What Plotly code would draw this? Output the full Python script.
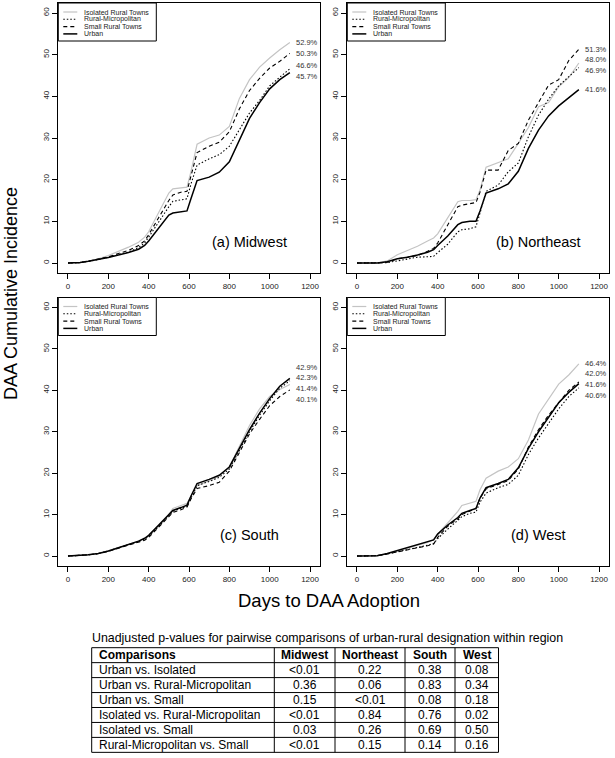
import plotly.graph_objects as go

# ---------------- data ----------------
days = [0, 60, 100, 150, 200, 250, 300, 350, 380, 400, 450, 500, 520, 560, 590, 610,
        640, 700, 750, 800, 850, 900, 950, 1000, 1050, 1100]

series_names = ["Isolated Rural Towns", "Rural-Micropolitan", "Small Rural Towns", "Urban"]
region_titles = ["(a) Midwest", "(b) Northeast", "(c) South", "(d) West"]

# Midwest
mw_isolated = [0, 0.1, 0.4, 1.0, 1.8, 2.8, 3.8, 5.0, 6.2, 7.5, 12.0, 16.8, 17.8, 18.0, 18.2, 22.0,
               28.5, 30.0, 30.7, 32.8, 39.5, 44.0, 47.0, 49.2, 51.2, 52.9]
mw_micro = [0, 0.1, 0.4, 0.8, 1.4, 2.0, 2.6, 3.7, 4.8, 6.2, 10.0, 13.5, 14.8, 15.2, 15.4, 19.0,
            23.5, 25.0, 26.0, 28.0, 32.0, 36.0, 39.0, 42.5, 44.6, 46.6]
mw_small = [0, 0.1, 0.4, 0.9, 1.5, 2.3, 3.0, 4.2, 5.3, 6.8, 11.0, 15.0, 16.3, 17.0, 17.2, 21.0,
            26.5, 28.0, 29.0, 31.5, 37.0, 41.4, 44.3, 46.8, 48.4, 50.3]
mw_urban = [0, 0.1, 0.4, 0.8, 1.3, 1.9, 2.5, 3.3, 4.2, 5.3, 8.3, 11.5, 12.0, 12.3, 12.5, 15.5,
            19.8, 20.6, 21.8, 24.3, 29.5, 34.7, 38.5, 41.8, 44.0, 45.7]

# Northeast
ne_isolated = [0, 0, 0, 0.5, 2.0, 3.0, 4.0, 5.3, 6.0, 7.0, 10.7, 14.7, 15.0, 15.0, 15.2, 17.5,
               23.0, 24.0, 25.0, 28.7, 32.5, 37.5, 38.5, 42.3, 44.5, 48.0]
ne_micro = [0, 0, 0, 0.1, 0.5, 0.9, 1.4, 1.5, 1.6, 2.5, 4.5, 7.5, 8.0, 8.2, 8.7, 12.0,
            17.2, 18.7, 21.9, 24.0, 30.3, 35.5, 39.3, 42.5, 44.8, 46.9]
ne_small = [0, 0, 0, 0.2, 1.0, 1.4, 1.8, 2.8, 3.5, 4.8, 9.0, 13.5, 13.9, 14.2, 14.5, 17.0,
            22.3, 22.3, 27.0, 28.7, 34.3, 38.5, 42.7, 44.0, 48.6, 51.3]
ne_urban = [0, 0, 0, 0.3, 1.0, 1.4, 1.9, 2.6, 3.2, 4.2, 6.5, 9.2, 9.7, 10.0, 10.0, 12.5,
            16.8, 17.8, 19.0, 22.0, 27.5, 31.9, 35.3, 37.7, 39.7, 41.6]

# South
so_isolated = [0, 0.1, 0.3, 0.6, 1.1, 1.9, 2.7, 3.5, 4.1, 4.8, 7.2, 10.0, 11.5, 12.2, 12.7, 14.5,
               17.0, 18.2, 19.3, 21.5, 26.5, 31.5, 35.5, 38.5, 40.2, 41.4]
so_micro = [0, 0.1, 0.3, 0.6, 1.2, 2.0, 2.7, 3.5, 4.1, 4.8, 7.2, 9.7, 10.8, 11.5, 12.0, 14.0,
            17.0, 18.0, 19.0, 21.0, 25.5, 30.0, 34.0, 37.5, 40.5, 42.3]
so_small = [0, 0.1, 0.3, 0.6, 1.1, 1.9, 2.6, 3.3, 3.8, 4.5, 7.0, 9.5, 10.5, 11.2, 11.8, 13.8,
            16.3, 17.0, 17.8, 20.5, 25.0, 29.5, 33.0, 36.3, 38.5, 40.1]
so_urban = [0, 0.1, 0.3, 0.6, 1.2, 2.0, 2.8, 3.6, 4.3, 5.0, 7.5, 10.0, 11.0, 11.7, 12.3, 14.5,
            17.5, 18.5, 19.5, 21.5, 26.0, 30.5, 34.5, 38.0, 41.0, 42.9]

# West
we_isolated = [0, 0, 0.1, 0.5, 1.2, 1.8, 2.5, 3.3, 4.0, 5.3, 8.0, 10.8, 12.2, 12.8, 13.2, 16.0,
               18.8, 20.5, 21.5, 23.5, 28.0, 34.3, 38.0, 41.5, 43.7, 46.4]
we_micro = [0, 0, 0.1, 0.5, 1.0, 1.5, 2.1, 2.6, 3.0, 4.2, 6.5, 8.5, 9.5, 10.3, 10.6, 13.0,
            15.2, 16.5, 17.3, 19.5, 24.5, 28.5, 32.0, 35.5, 38.5, 40.6]
we_small = [0, 0, 0.1, 0.5, 1.0, 1.4, 2.0, 2.5, 2.9, 4.5, 7.2, 9.0, 10.0, 10.8, 11.5, 14.0,
            16.2, 17.3, 18.2, 21.0, 26.3, 30.5, 34.0, 37.0, 40.0, 42.0]
we_urban = [0, 0, 0.1, 0.6, 1.3, 1.9, 2.7, 3.4, 3.9, 5.3, 7.5, 9.3, 10.3, 11.0, 11.5, 14.0,
            16.5, 17.5, 18.5, 21.3, 26.0, 30.0, 33.5, 37.0, 39.5, 41.6]

x_ticks = [0, 200, 400, 600, 800, 1000, 1200]
y_ticks = [0, 10, 20, 30, 40, 50, 60]

# table
tbl_title = "Unadjusted p-values for pairwise comparisons of urban-rural designation within region"
tbl_header = ["Comparisons", "Midwest", "Northeast", "South", "West"]
tbl_comparisons = ["Urban vs. Isolated", "Urban vs. Rural-Micropolitan", "Urban vs. Small",
                   "Isolated vs. Rural-Micropolitan", "Isolated vs. Small", "Rural-Micropolitan vs. Small"]
tbl_midwest = ["<0.01", "0.36", "0.15", "<0.01", "0.03", "<0.01"]
tbl_northeast = ["0.22", "0.06", "<0.01", "0.84", "0.26", "0.15"]
tbl_south = ["0.38", "0.83", "0.08", "0.76", "0.69", "0.14"]
tbl_west = ["0.08", "0.34", "0.18", "0.02", "0.50", "0.16"]

# ---------------- layout / styling ----------------
W, H = 615, 758
FONT = "Liberation Sans, Arial, sans-serif"
styles = [
    dict(color="#c4c4c4", width=1.2, dash="solid"),
    dict(color="#000000", width=1.1, dash="1.5px,2px"),
    dict(color="#000000", width=1.1, dash="4px,3px"),
    dict(color="#000000", width=1.5, dash="solid"),
]
panels = [
    [mw_isolated, mw_micro, mw_small, mw_urban],
    [ne_isolated, ne_micro, ne_small, ne_urban],
    [so_isolated, so_micro, so_small, so_urban],
    [we_isolated, we_micro, we_small, we_urban],
]
# panel boxes in pixels: (left, right, top, bottom)
boxes = [(58.3, 319.7, 3.0, 273.0), (347.3, 608.7, 3.0, 273.0),
         (58.3, 319.7, 297.5, 566.0), (347.3, 608.7, 297.5, 566.0)]

# table geometry (pixels)
TBL_LEFT, TBL_TOP, ROW_H = 91.7, 647.7, 14.95
COL_W = [182.6, 60.7, 70.0, 50.0, 43.5]


def px_x(p):
    return p / W


def px_y(p):
    return 1 - p / H


def spread(vals, gap):
    """Place end labels at their values, pushing overlapping ones apart."""
    order = sorted(range(len(vals)), key=lambda i: vals[i])
    clusters = []
    for i in order:
        clusters.append([i])
        while len(clusters) > 1:
            a, b = clusters[-2], clusters[-1]
            ca = sum(vals[k] for k in a) / len(a)
            cb = sum(vals[k] for k in b) / len(b)
            top_a = ca + (len(a) - 1) / 2 * gap
            bot_b = cb - (len(b) - 1) / 2 * gap
            if bot_b - top_a < gap:
                clusters[-2:] = [a + b]
            else:
                break
    pos = {}
    for c in clusters:
        m = sum(vals[k] for k in c) / len(c)
        for j, k in enumerate(c):
            pos[k] = m + (j - (len(c) - 1) / 2) * gap
    return [pos[i] for i in range(len(vals))]


fig = go.Figure()
annotations = []
shapes = []

for p, (series, box) in enumerate(zip(panels, boxes)):
    xa = "xaxis" if p == 0 else f"xaxis{p+1}"
    ya = "yaxis" if p == 0 else f"yaxis{p+1}"
    xr = "x" if p == 0 else f"x{p+1}"
    yr = "y" if p == 0 else f"y{p+1}"
    l, r, t, b = box
    for name, vals, st in zip(series_names, series, styles):
        fig.add_trace(go.Scatter(x=days, y=vals, mode="lines", name=name, showlegend=False,
                                 line=st, xaxis=xr, yaxis=yr, hoverinfo="skip"))
    axis_common = dict(showgrid=False, zeroline=False, showline=True, mirror=True,
                       linecolor="black", linewidth=1, ticks="outside", ticklen=5,
                       tickcolor="black", tickwidth=1,
                       tickfont=dict(family=FONT, size=8, color="#222"))
    fig.layout[xa] = dict(axis_common, domain=[px_x(l), px_x(r)], range=[-48, 1248],
                          tickvals=x_ticks, anchor=yr)
    fig.layout[ya] = dict(axis_common, domain=[px_y(b), px_y(t)], range=[-2.4, 62.4],
                          tickvals=y_ticks, tickangle=-90, anchor=xr)

    # region label
    annotations.append(dict(x=900, y=5, xref=xr, yref=yr, text=region_titles[p],
                            xanchor="center", yanchor="middle",
                            showarrow=False, font=dict(family=FONT, size=14.5, color="black")))
    # end-of-line labels
    finals = [s[-1] for s in series]
    for v, ypos in zip(finals, spread(finals, 2.6)):
        annotations.append(dict(x=1120, y=ypos, xref=xr, yref=yr, text=f"{v:.1f}%",
                                xanchor="left", yanchor="middle", showarrow=False,
                                font=dict(family=FONT, size=7.5, color="#333")))
    # legend box (pixel offsets from the panel's top-left corner)
    shapes.append(dict(type="rect", xref="paper", yref="paper",
                       x0=px_x(l), x1=px_x(l + 98), y0=px_y(t + 38), y1=px_y(t),
                       line=dict(color="black", width=1), fillcolor="white", layer="above"))
    for k, (name, st) in enumerate(zip(series_names, styles)):
        yy = px_y(t + 9 + k * 7.3)
        shapes.append(dict(type="line", xref="paper", yref="paper",
                           x0=px_x(l + 5), x1=px_x(l + 19), y0=yy, y1=yy,
                           line=dict(color=st["color"], width=st["width"], dash=st["dash"]),
                           layer="above"))
        annotations.append(dict(x=px_x(l + 24.5), y=yy, xref="paper", yref="paper", text=name,
                                xanchor="left", yanchor="middle", showarrow=False,
                                borderpad=0,
                                font=dict(family=FONT, size=7, color="#222")))

# axis titles
annotations.append(dict(x=px_x(11), y=px_y(294), xref="paper", yref="paper",
                        text="DAA Cumulative Incidence", textangle=-90, showarrow=False,
                        xanchor="center", yanchor="middle",
                        font=dict(family=FONT, size=18, color="black")))
annotations.append(dict(x=px_x(328.5), y=px_y(600), xref="paper", yref="paper",
                        text="Days to DAA Adoption", showarrow=False,
                        xanchor="center", yanchor="middle",
                        font=dict(family=FONT, size=18.5, color="black")))
# table title
annotations.append(dict(x=px_x(90), y=px_y(638), xref="paper", yref="paper", text=tbl_title,
                        xanchor="left", yanchor="middle", showarrow=False,
                        font=dict(family=FONT, size=12.4, color="black")))

# ---------------- table drawn from the data lists ----------------
columns = [tbl_comparisons, tbl_midwest, tbl_northeast, tbl_south, tbl_west]
n_rows = len(tbl_comparisons) + 1
col_edges = [TBL_LEFT]
for w in COL_W:
    col_edges.append(col_edges[-1] + w)
tbl_bottom = TBL_TOP + n_rows * ROW_H
for xe in col_edges:
    shapes.append(dict(type="line", xref="paper", yref="paper", x0=px_x(xe), x1=px_x(xe),
                       y0=px_y(TBL_TOP), y1=px_y(tbl_bottom), line=dict(color="black", width=1)))
for i in range(n_rows + 1):
    ye = TBL_TOP + i * ROW_H
    shapes.append(dict(type="line", xref="paper", yref="paper", x0=px_x(col_edges[0]),
                       x1=px_x(col_edges[-1]), y0=px_y(ye), y1=px_y(ye),
                       line=dict(color="black", width=1)))
for c, (head, col) in enumerate(zip(tbl_header, columns)):
    cells = [f"<b>{head}</b>"] + list(col)
    for i, txt in enumerate(cells):
        yc = px_y(TBL_TOP + (i + 0.5) * ROW_H)
        if c == 0:
            xpos, anchor = px_x(col_edges[0] + 5), "left"
        else:
            xpos, anchor = px_x((col_edges[c] + col_edges[c + 1]) / 2), "center"
        annotations.append(dict(x=xpos, y=yc, xref="paper", yref="paper",
                                text=txt.replace("<0", "&lt;0"), xanchor=anchor,
                                yanchor="middle", showarrow=False,
                                font=dict(family=FONT, size=12, color="black")))

fig.update_layout(width=W, height=H, margin=dict(l=0, r=0, t=0, b=0),
                  paper_bgcolor="white", plot_bgcolor="white", showlegend=False,
                  annotations=annotations, shapes=shapes)

fig.write_html("out.html", config={"displayModeBar": False},
               post_script="document.body.style.margin='0';")
